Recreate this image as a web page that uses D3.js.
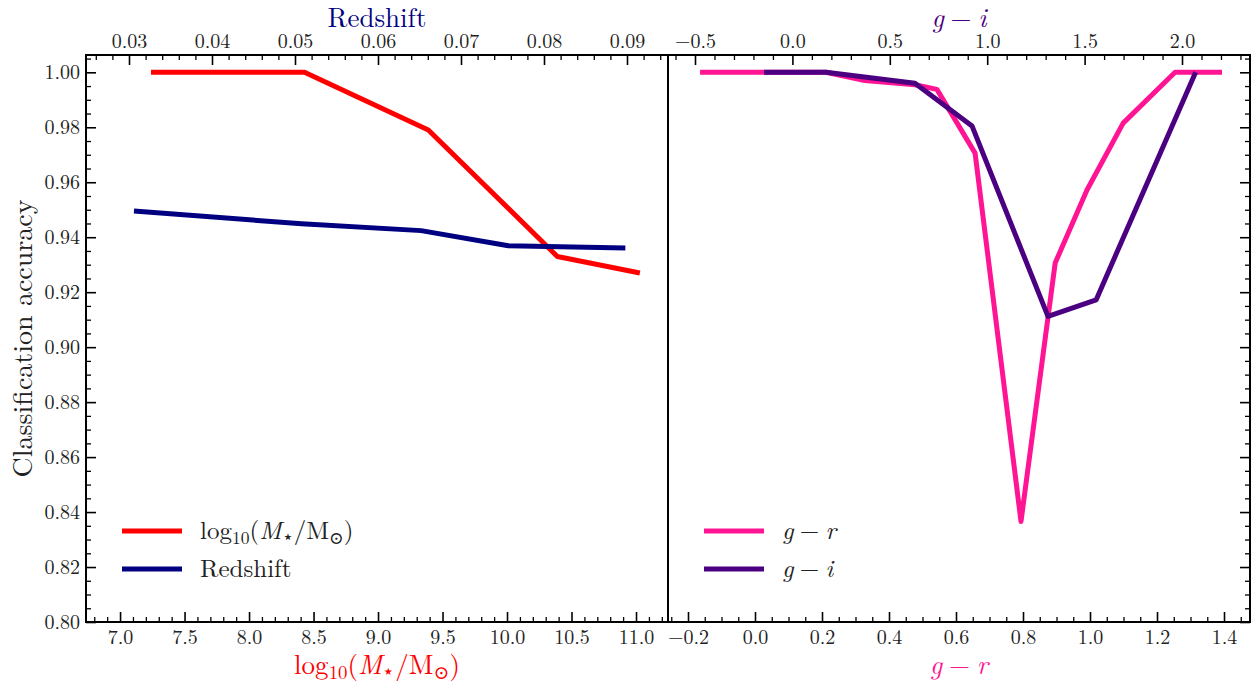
<!DOCTYPE html>
<html>
<head>
<meta charset="utf-8">
<script src="https://cdn.jsdelivr.net/npm/d3@7"></script>
<style>
  html, body { margin: 0; padding: 0; background: #fff; }
  svg { display: block; }
</style>
</head>
<body>
<svg id="chart" width="1258" height="687"></svg>
<script>
// Classification accuracy per bin of stellar mass and redshift (left panel)
const massX   = [7.24, 8.43, 9.39, 10.39, 11.03];
const massAcc = [1.000, 1.000, 0.979, 0.933, 0.927];
const zX      = [0.0306, 0.0508, 0.0652, 0.0757, 0.0898];
const zAcc    = [0.9495, 0.9449, 0.9424, 0.9369, 0.9361];

// Classification accuracy per bin of colour (right panel)
const grX   = [-0.164, 0.212, 0.328, 0.478, 0.543, 0.657, 0.794, 0.896, 0.991, 1.099, 1.254, 1.394];
const grAcc = [1.000, 1.000, 0.997, 0.9955, 0.9938, 0.9706, 0.8366, 0.9306, 0.9572, 0.9815, 1.000, 1.000];
const giX   = [-0.146, 0.1725, 0.629, 0.922, 1.312, 1.559, 2.07];
const giAcc = [1.000, 1.000, 0.996, 0.9805, 0.9112, 0.9172, 1.000];

// Tick labels
const yTicks    = [0.80, 0.82, 0.84, 0.86, 0.88, 0.90, 0.92, 0.94, 0.96, 0.98, 1.00];
const massTicks = [7.0, 7.5, 8.0, 8.5, 9.0, 9.5, 10.0, 10.5, 11.0];
const zTicks    = [0.03, 0.04, 0.05, 0.06, 0.07, 0.08, 0.09];
const grTicks   = [-0.2, 0.0, 0.2, 0.4, 0.6, 0.8, 1.0, 1.2, 1.4];
const giTicks   = [-0.5, 0.0, 0.5, 1.0, 1.5, 2.0];

const C = { red: "#ff0000", navy: "#000080", pink: "#ff1493", indigo: "#4b0082" };

const FONT = '"Latin Modern Roman", "Liberation Serif", serif';
const SYM = '"Latin Modern Roman", "DejaVu Serif", serif';

const svg = d3.select("#chart");
svg.append("rect").attr("width", 1258).attr("height", 687).attr("fill", "#fff");

const L = 86, M = 668, R = 1250, T = 55, B = 622;

const y      = d3.scaleLinear().domain([0.80, 1.0063]).range([B, T]);
const xMass  = d3.scaleLinear().domain([6.736, 11.248]).range([L, M]);
const xZ     = d3.scaleLinear().domain([0.02482, 0.09494]).range([L, M]);
const xGR    = d3.scaleLinear().domain([-0.2597, 1.4776]).range([M, R]);
const xGI    = d3.scaleLinear().domain([-0.6386, 2.349]).range([M, R]);

const minus = s => s.replace("-", "\u2212");

function minorValues(scale, step, majors) {
  const [a, b] = scale.domain();
  const out = [];
  const start = Math.ceil(a / step - 1e-9);
  const end = Math.floor(b / step + 1e-9);
  for (let i = start; i <= end; i++) {
    const v = +(i * step).toFixed(6);
    if (!majors.some(m => Math.abs(m - v) < step * 1e-3)) out.push(v);
  }
  return out;
}

function drawAxis(axisFn, scale, majors, step, fmt, transform, pad, showLabels) {
  const g = svg.append("g").attr("transform", transform);
  const ax = axisFn(scale).tickValues(majors).tickSize(-10).tickPadding(pad)
    .tickFormat(showLabels ? (d => minus(fmt(d))) : () => "");
  g.call(ax);
  g.attr("font-family", FONT).attr("font-size", 20);
  g.select(".domain").remove();
  g.selectAll(".tick line").attr("stroke", "#000").attr("stroke-width", 1.6);
  g.selectAll(".tick text").attr("fill", "#222");
  const gm = svg.append("g").attr("transform", transform);
  gm.call(axisFn(scale).tickValues(minorValues(scale, step, majors)).tickSize(-5).tickFormat(() => ""));
  gm.select(".domain").remove();
  gm.selectAll(".tick line").attr("stroke", "#000").attr("stroke-width", 1.3);
}

// Left panel axes
drawAxis(d3.axisBottom, xMass, massTicks, 0.1, d3.format(".1f"), `translate(0,${B})`, 8, true);
drawAxis(d3.axisTop, xZ, zTicks, 0.002, d3.format(".2f"), `translate(0,${T})`, 7, true);
drawAxis(d3.axisLeft, y, yTicks, 0.005, d3.format(".2f"), `translate(${L},0)`, 6, true);
// Right panel axes
drawAxis(d3.axisBottom, xGR, grTicks, 0.05, d3.format(".1f"), `translate(0,${B})`, 8, true);
drawAxis(d3.axisTop, xGI, giTicks, 0.1, d3.format(".1f"), `translate(0,${T})`, 7, true);
drawAxis(d3.axisRight, y, yTicks, 0.005, d3.format(".2f"), `translate(${R},0)`, 6, false);

// Clip each panel's lines to its frame
const defs = svg.append("defs");
defs.append("clipPath").attr("id", "clipL").append("rect").attr("x", L).attr("y", T).attr("width", M - L).attr("height", B - T);
defs.append("clipPath").attr("id", "clipR").append("rect").attr("x", M).attr("y", T).attr("width", R - M).attr("height", B - T);

function series(xs, ys, xScale, color, clip) {
  const pts = xs.map((v, i) => [v, ys[i]]);
  svg.append("path")
    .datum(pts)
    .attr("clip-path", `url(#${clip})`)
    .attr("fill", "none")
    .attr("stroke", color)
    .attr("stroke-width", 5)
    .attr("stroke-linejoin", "round")
    .attr("stroke-linecap", "butt")
    .attr("d", d3.line().x(d => xScale(d[0])).y(d => y(d[1])));
}

series(massX, massAcc, xMass, C.red, "clipL");
series(zX, zAcc, xZ, C.navy, "clipL");
series(grX, grAcc, xGR, C.pink, "clipR");
series(giX, giAcc, xGI, C.indigo, "clipR");

// Frames
const frame = svg.append("g").attr("fill", "none").attr("stroke", "#000").attr("stroke-width", 2);
frame.append("rect").attr("x", L).attr("y", T).attr("width", M - L).attr("height", B - T);
frame.append("rect").attr("x", M).attr("y", T).attr("width", R - M).attr("height", B - T);

// Math-like labels built from tspans
function massLabel(sel, size) {
  sel.append("tspan").text("log");
  sel.append("tspan").attr("font-size", size * 0.7).attr("dy", size * 0.18).text("10");
  sel.append("tspan").attr("dy", -size * 0.18).text("(");
  sel.append("tspan").attr("font-style", "italic").text("M");
  sel.append("tspan").attr("font-size", size * 0.75).attr("dy", size * 0.16)
    .attr("font-family", SYM).text("\u22C6");
  sel.append("tspan").attr("dy", -size * 0.16).text("/M");
  sel.append("tspan").attr("font-size", size * 0.7).attr("dy", size * 0.18)
    .attr("font-family", SYM).text("\u2299");
  sel.append("tspan").attr("dy", -size * 0.18).text(")");
}
function colourLabel(sel, a, b) {
  sel.append("tspan").attr("font-style", "italic").text(a);
  sel.append("tspan").text("\u2005\u2212\u2005");
  sel.append("tspan").attr("font-style", "italic").text(b);
}

const axisSize = 27;
function label(x, yy, color) {
  return svg.append("text").attr("x", x).attr("y", yy).attr("text-anchor", "middle")
    .attr("font-family", FONT).attr("font-size", axisSize).attr("fill", color);
}
// Axis titles
label((L + M) / 2, 674, C.red).call(massLabel, axisSize);
label((L + M) / 2, 27, C.navy).text("Redshift");
label((M + R) / 2, 674, C.pink).call(colourLabel, "g", "r");
label((M + R) / 2, 27, C.indigo).call(colourLabel, "g", "i");
svg.append("text").attr("transform", `translate(32,${(T + B) / 2}) rotate(-90)`)
  .attr("text-anchor", "middle").attr("font-family", FONT).attr("font-size", 28)
  .attr("fill", "#222").text("Classification accuracy");

// Legends
const legSize = 25;
function legend(x0, rows) {
  rows.forEach((r, i) => {
    const yy = 531 + i * 38;
    svg.append("line").attr("x1", x0).attr("x2", x0 + 60).attr("y1", yy).attr("y2", yy)
      .attr("stroke", r.color).attr("stroke-width", 5);
    const t = svg.append("text").attr("x", x0 + 78).attr("y", yy + 8)
      .attr("font-family", FONT).attr("font-size", legSize).attr("fill", "#222");
    r.draw(t);
  });
}
legend(122, [
  { color: C.red, draw: t => massLabel(t, legSize) },
  { color: C.navy, draw: t => t.text("Redshift") }
]);
legend(704, [
  { color: C.pink, draw: t => colourLabel(t, "g", "r") },
  { color: C.indigo, draw: t => colourLabel(t, "g", "i") }
]);
</script>
</body>
</html>
